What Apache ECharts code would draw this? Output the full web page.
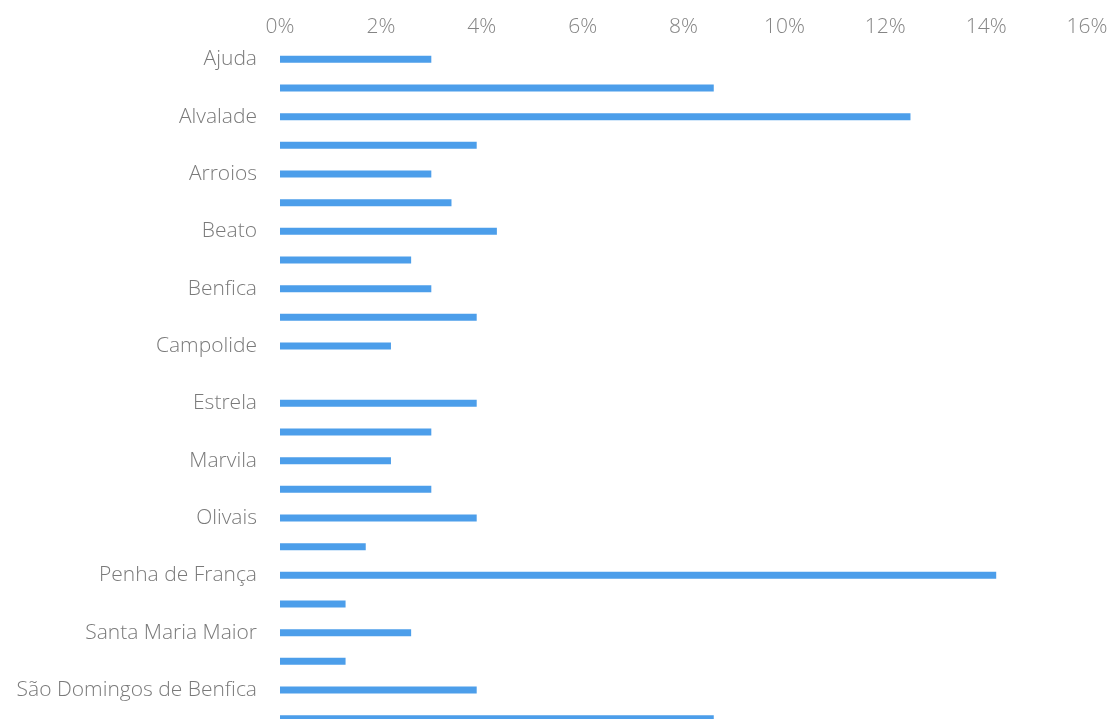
<!DOCTYPE html>
<html>
<head>
<meta charset="utf-8">
<script src="https://cdn.jsdelivr.net/npm/echarts@6/dist/echarts.min.js"></script>
<style>
  html, body { margin: 0; padding: 0; background: #ffffff; overflow: hidden; }
  /* the plot runs a little past the bottom of the window, so the last row is cut */
  #chart { width: 1112px; height: 740px; }
</style>
</head>
<body>
<div id="chart"></div>
<script>
// Lisbon parishes (freguesias), in alphabetical order
const parishes = [
  'Ajuda', 'Alcântara', 'Alvalade', 'Areeiro', 'Arroios', 'Avenidas Novas',
  'Beato', 'Belém', 'Benfica', 'Campo de Ourique', 'Campolide', 'Carnide',
  'Estrela', 'Lumiar', 'Marvila', 'Misericórdia', 'Olivais', 'Parque das Nações',
  'Penha de França', 'Santa Clara', 'Santa Maria Maior', 'Santo António',
  'São Domingos de Benfica', 'São Vicente'
];

// Share of the total per parish, in percent
const shares = [
  3.0, 8.6, 12.5, 3.9, 3.0, 3.4,
  4.3, 2.6, 3.0, 3.9, 2.2, 0,
  3.9, 3.0, 2.2, 3.0, 3.9, 1.7,
  14.2, 1.3, 2.6, 1.3, 3.9, 8.6
];

// Percentage scale along the top
const axisMin = 0;
const axisMax = 16;
const axisStep = 2;

const chart = echarts.init(document.getElementById('chart'), null, { renderer: 'canvas' });

const labelFont = "'Open Sans', 'Liberation Sans', sans-serif";

chart.setOption({
  animation: false,
  backgroundColor: '#ffffff',
  grid: {
    left: 280,
    right: 25,
    top: 45,
    bottom: 7,
    containLabel: false
  },
  xAxis: {
    type: 'value',
    position: 'top',
    min: axisMin,
    max: axisMax,
    interval: axisStep,
    axisLine: { show: false },
    axisTick: { show: false },
    splitLine: { show: false },
    axisLabel: {
      formatter: '{value}%',
      color: '#858585',
      fontFamily: labelFont,
      fontWeight: 300,
      fontSize: 21,
      margin: 7
    }
  },
  yAxis: {
    type: 'category',
    inverse: true,
    data: parishes,
    axisLine: { show: false },
    axisTick: { show: false },
    splitLine: { show: false },
    axisLabel: {
      interval: 1,
      color: '#7a7a7a',
      fontFamily: labelFont,
      fontWeight: 300,
      fontSize: 21,
      margin: 23
    }
  },
  series: [{
    type: 'bar',
    data: shares,
    barWidth: 7,
    itemStyle: { color: '#4c9eea' }
  }]
});
</script>
</body>
</html>
